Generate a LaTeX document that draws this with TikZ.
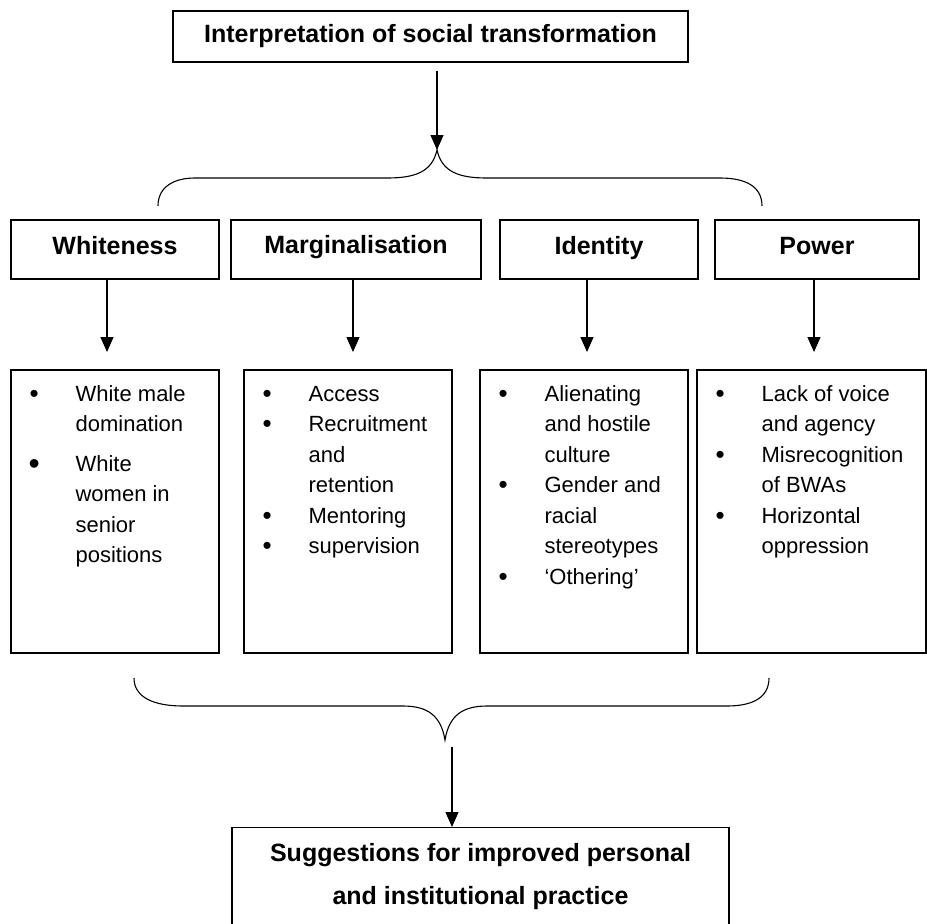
\documentclass[tikz,border=0pt]{standalone}
\usepackage{fontspec}
\setmainfont{Liberation Sans}
\usetikzlibrary{arrows.meta}
% bullet cell of an item list
\newcommand\bul{\makebox[45pt][l]{\hspace{-1pt}\raisebox{-1pt}{\fontsize{26}{26}\selectfont\textbullet}}}
\newcommand\bigbul{\makebox[45pt][l]{\hspace{-2pt}\raisebox{-3pt}{\fontsize{32}{32}\selectfont\textbullet}}}
\begin{document}
\begin{tikzpicture}[x=1pt,y=-1pt,
  frame/.style={draw, line width=1.2pt, inner sep=0pt},
  headtext/.style={font=\fontsize{25}{30}\selectfont\bfseries},
  headbox/.style={frame, headtext, minimum height=59pt, text height=18pt, text depth=9pt},
  bodytext/.style={font=\fontsize{22}{30.5}\selectfont, inner sep=0pt, anchor=base west},
  flow/.style={line width=1.1pt, -{Triangle[length=15pt,width=13pt]}},
  brace/.style={line width=1.1pt},
]
\useasboundingbox (0,0) rectangle (927,924);
\clip (0,0) rectangle (927,924);

% title
\node[frame, headtext, minimum width=515pt, minimum height=51pt] (title) at (430.5,36.5) {Interpretation of social transformation};

% upper brace
\coordinate (toptip) at (437,150);
\draw[brace] (158,206) .. controls (158,186) and (175,178) .. (195,178) -- (387,178)
  .. controls (415,178) and (432,172) .. (toptip)
  .. controls (442,172) and (459,178) .. (487,178) -- (720,178)
  .. controls (745,178) and (762,186) .. (762,206);
\draw[flow] ([yshift=-8pt]title.south -| toptip) -- (toptip);

% theme headers
\node[headbox, minimum width=208pt] (white) at (115,249.5) {Whiteness};
\node[headbox, minimum width=250pt, text height=17pt, text depth=10pt] (marg) at (356,249.5) {Marginalisation};
\node[headbox, minimum width=198pt] (ident) at (599,249.5) {Identity};
\node[headbox, minimum width=204pt] (power) at (817,249.5) {Power};

% item boxes
\node[frame, minimum width=208pt, minimum height=283pt] (list1) at (115,511.5) {};
\node[frame, minimum width=208pt, minimum height=283pt] (list2) at (348,511.5) {};
\node[frame, minimum width=208pt, minimum height=283pt] (list3) at (584,511.5) {};
\node[frame, minimum width=229pt, minimum height=283pt] (list4) at (811.5,511.5) {};

\coordinate (rowtips) at (0,352);
\draw[flow] ([xshift=-8pt]white.south) -- ([xshift=-8pt]white.south |- rowtips);
\draw[flow] ([xshift=-3pt]marg.south) -- ([xshift=-3pt]marg.south |- rowtips);
\draw[flow] ([xshift=-12pt]ident.south) -- ([xshift=-12pt]ident.south |- rowtips);
\draw[flow] ([xshift=-3pt]power.south) -- ([xshift=-3pt]power.south |- rowtips);

\node[bodytext] (items1) at ([xshift=20pt,yshift=-32pt]list1.north west) {%
\begin{tabular}[t]{@{}l@{}l@{}}
\bul & White male\\
 & domination\\[9pt]
\bigbul & White\\
 & women in\\
 & senior\\
 & positions
\end{tabular}};

\node[bodytext] (items2) at ([xshift=20pt,yshift=-32pt]list2.north west) {%
\begin{tabular}[t]{@{}l@{}l@{}}
\bul & Access\\
\bul & Recruitment\\
 & and\\
 & retention\\
\bul & Mentoring\\
\bul & supervision
\end{tabular}};

\node[bodytext] (items3) at ([xshift=20pt,yshift=-32pt]list3.north west) {%
\begin{tabular}[t]{@{}l@{}l@{}}
\bul & Alienating\\
 & and hostile\\
 & culture\\
\bul & Gender and\\
 & racial\\
 & stereotypes\\
\bul & ‘Othering’
\end{tabular}};

\node[bodytext] (items4) at ([xshift=20pt,yshift=-32pt]list4.north west) {%
\begin{tabular}[t]{@{}l@{}l@{}}
\bul & Lack of voice\\
 & and agency\\
\bul & Misrecognition\\
 & of BWAs\\
\bul & Horizontal\\
 & oppression
\end{tabular}};

% lower brace
\coordinate (bottip) at (445,740);
\draw[brace] (134,678) .. controls (134,698) and (155,706) .. (183,706) -- (403,706)
  .. controls (428,706) and (441,716) .. (bottip)
  .. controls (449,716) and (462,706) .. (487,706) -- (727,706)
  .. controls (752,706) and (769,698) .. (769,678);

% conclusion
\node[frame, minimum width=497pt, minimum height=140pt, anchor=north] (sugg) at (480.5,827) {};
\node[font=\fontsize{25}{43}\selectfont\bfseries, inner sep=0pt, anchor=base] (suggtext) at ([yshift=-34pt]sugg.north) {%
\begin{tabular}[t]{@{}c@{}}Suggestions for improved personal\\ and institutional practice\end{tabular}};
\draw[flow] ([xshift=7pt,yshift=-7pt]bottip) -- ([xshift=7pt]bottip |- sugg.north);
\end{tikzpicture}
\end{document}
